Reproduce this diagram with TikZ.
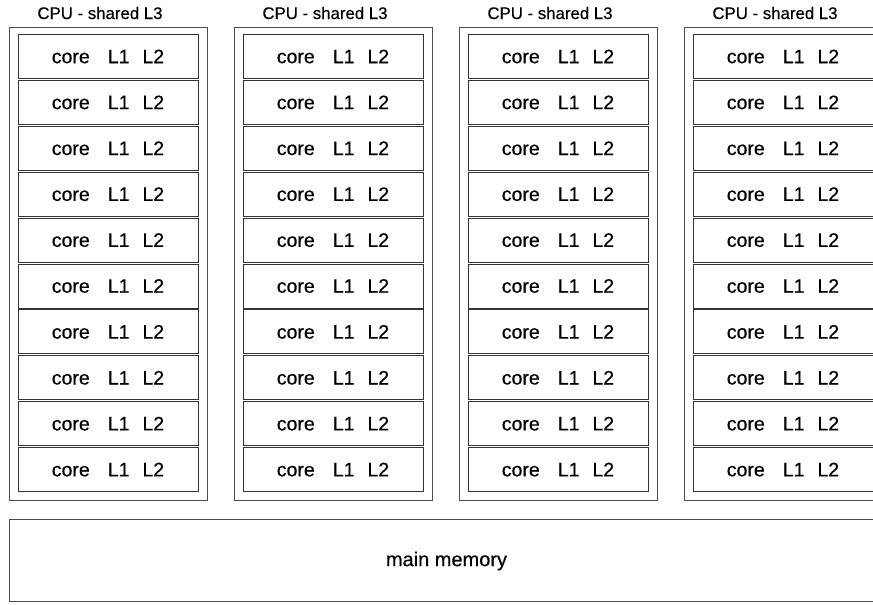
\documentclass[tikz,border=0pt]{standalone}
\usepackage{fontspec}
\setmainfont{Liberation Sans}[FakeBold=0.4]
\tikzset{
  cpubox/.style={draw=black!70,line width=0.9pt,minimum width=198pt,minimum height=473pt,inner sep=0pt,anchor=north west},
  corebox/.style={draw=black!80,line width=0.9pt,minimum width=180pt,minimum height=44pt,inner sep=0pt,font=\fontsize{19.5}{19.5}\selectfont},
  cputitle/.style={font=\fontsize{16.8}{16.8}\selectfont},
  membox/.style={draw=black!70,line width=0.9pt,minimum width=876pt,minimum height=82pt,inner sep=0pt,anchor=north west}
}
\begin{document}
\begin{tikzpicture}[x=1pt,y=-1pt]
  \clip (0,0) rectangle (873,605);
  \foreach \i in {1,...,4} {
    \pgfmathsetmacro\xo{9+225*(\i-1)}
    \node[cpubox] (cpu\i) at (\xo,27) {};
    \node[cputitle] (title\i) at (\xo+91,13) {CPU - shared L3};
    \foreach \j in {1,...,10}
      \node[corebox] (core\i-\j) at (\xo+99,10.6+45.9*\j) {core\hspace{0.93em}L1\hspace{0.66em}L2};
  }
  \node[membox] (mem) at (9,519) {};
  \node[font=\fontsize{20}{20}\selectfont] (memlabel) at (446.5,561) {main memory};
\end{tikzpicture}
\end{document}
